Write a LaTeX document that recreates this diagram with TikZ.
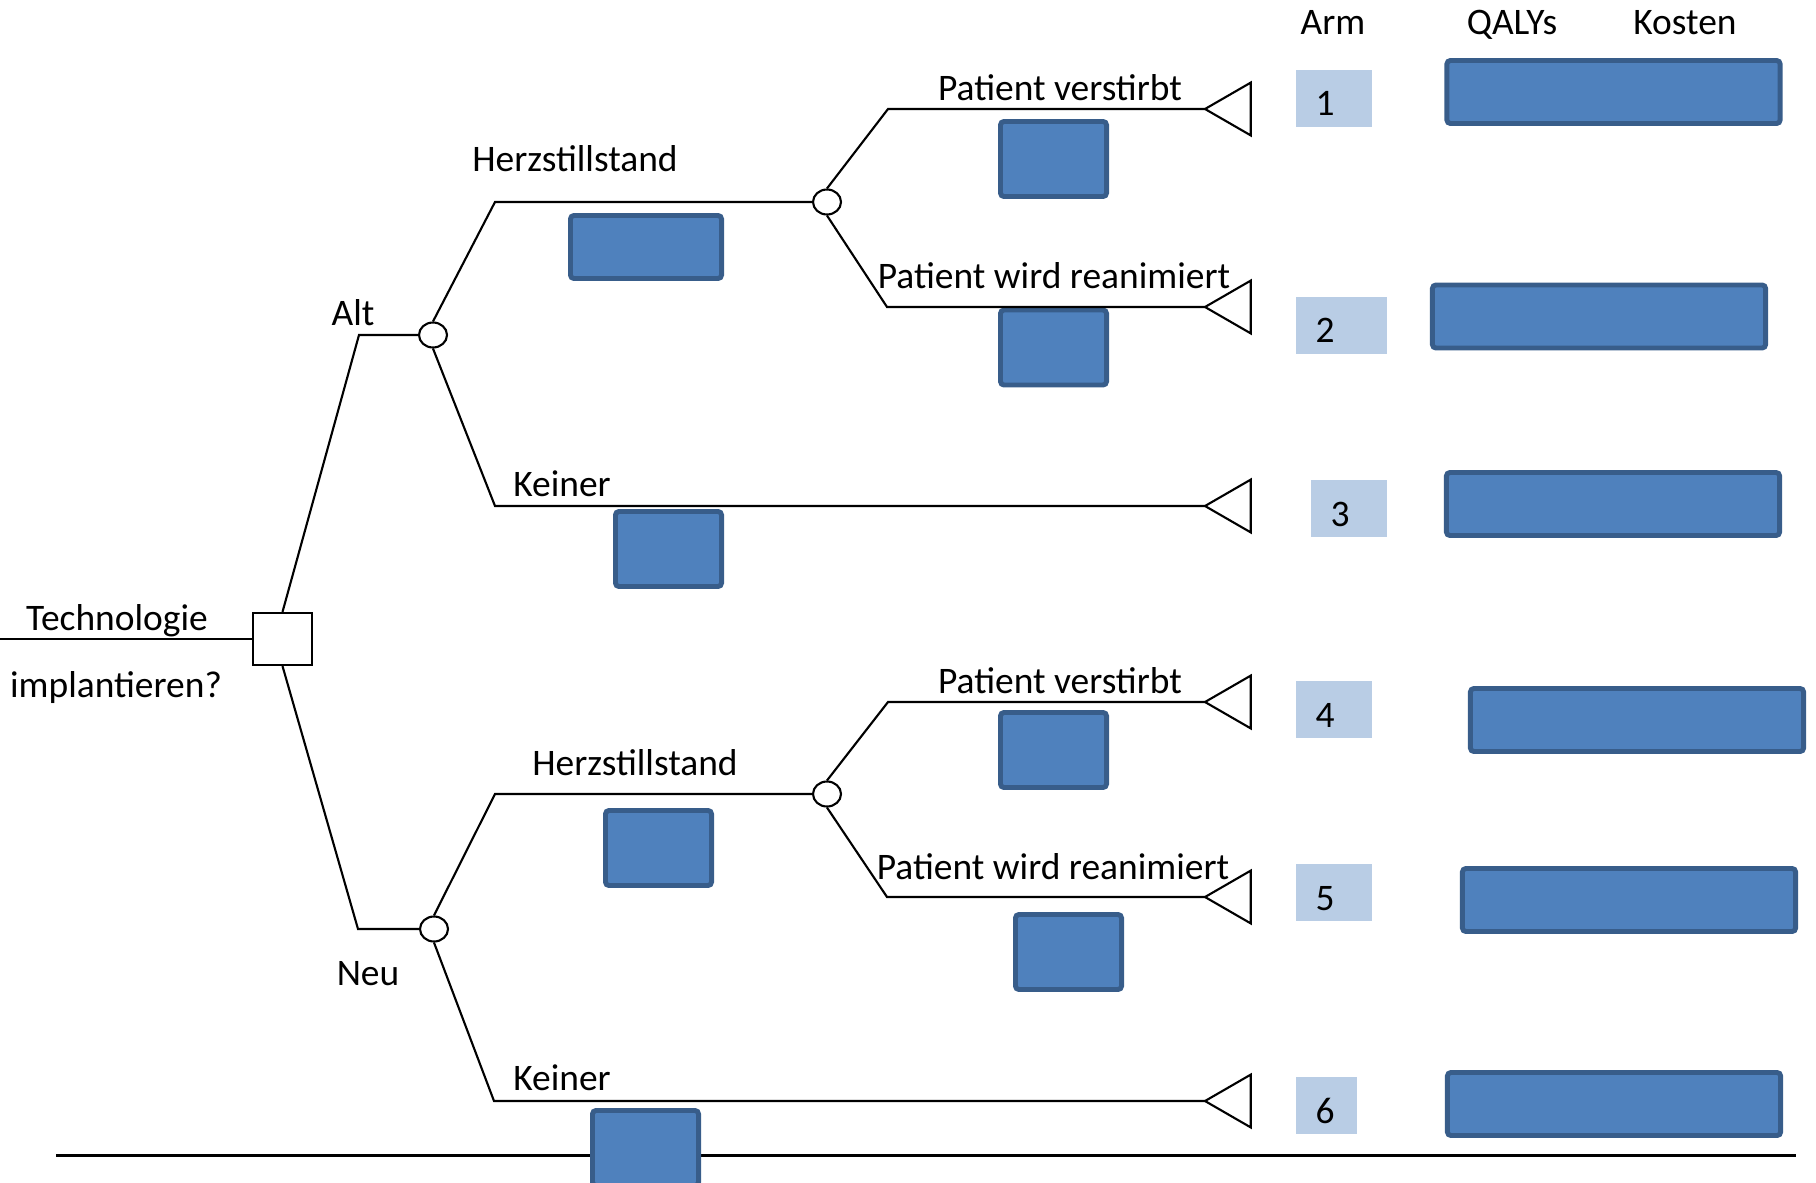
\documentclass[tikz,border=0pt]{standalone}
\usepackage{fontspec}
\setmainfont{Carlito}
\usepackage{xcolor}
\usepackage{tikz}
\usetikzlibrary{
    shapes.geometric
}

\definecolor{boxblue}{HTML}{4F81BD}
\definecolor{boxedge}{HTML}{385D8A}
\definecolor{armblue}{HTML}{B9CDE5}

\begin{document}
\begin{tikzpicture}[
    x=0.01cm,
    y=-0.01cm,
    label_style/.style={
        font=\fontsize{10.65}{12}\selectfont,
        inner sep=0pt,
        anchor=base
    },
    edge_style/.style={
        draw=black,
        line width=0.6pt
    },
    decision_style/.style={
        draw, fill=white, line width=0.6pt,
        minimum width=0.59cm, minimum height=0.52cm,
        inner sep=0pt
    },
    chance_style/.style={
        ellipse, draw, fill=white, line width=0.6pt,
        minimum width=0.28cm, minimum height=0.25cm,
        inner sep=0pt
    },
    end_style/.style={
        regular polygon, regular polygon sides=3,
        shape border rotate=90,
        draw, line width=0.6pt,
        minimum size=0.61cm, inner sep=0pt, outer sep=0pt,
        anchor=corner 1
    },
    prob_style/.style={
        draw=boxedge, fill=boxblue, line width=1.4pt,
        rounded corners=1pt, inner sep=0pt,
        minimum width=1.06cm, minimum height=0.75cm
    },
    cost_style/.style={
        prob_style,
        minimum width=3.33cm, minimum height=0.63cm
    },
    arm_style/.style={
        fill=armblue, inner sep=0pt,
        minimum width=0.76cm, minimum height=0.57cm
    }
]
\useasboundingbox (0,0) rectangle (1816,1182);

% --- Bottom rule (lies behind the last box) ---
\coordinate (base_l) at (56,1155);
\coordinate (base_r) at (1796,1155);
\draw[line width=0.85pt] (base_l) -- (base_r);

% --- Tree nodes ---
\coordinate (start) at (0,639);
\node[decision_style] (dec) at (282.5,639) {};
\node[chance_style] (altc) at (433,335) {};
\node[chance_style] (neuc) at (434,929) {};
\node[chance_style] (c1) at (827,202) {};
\node[chance_style] (c2) at (827,794) {};

% Terminal triangles
\node[end_style] (t1) at (1205,109) {};
\node[end_style] (t2) at (1205,307) {};
\node[end_style] (t3) at (1205,506) {};
\node[end_style] (t4) at (1205,702) {};
\node[end_style] (t5) at (1205,897) {};
\node[end_style] (t6) at (1205,1101) {};

% --- Branch labels ---
\node[label_style] (tech1) at (117,630) {Technologie};
\node[label_style] (tech2) at (116,697) {implantieren?};
\node[label_style] (alt) at (353,325) {Alt};
\node[label_style] (neu) at (368,985) {Neu};
\node[label_style] (herz_a) at (575,172) {Herzstillstand};
\node[label_style] (herz_n) at (635,775) {Herzstillstand};
\node[label_style] (keiner_a) at (562,496) {Keiner};
\node[label_style] (keiner_n) at (562,1090) {Keiner};
\node[label_style] (tod_a) at (1060,101) {Patient verstirbt};
\node[label_style] (rean_a) at (1054,288) {Patient wird reanimiert};
\node[label_style] (tod_n) at (1060,693) {Patient verstirbt};
\node[label_style] (rean_n) at (1053,879) {Patient wird reanimiert};

% Probability boxes
\node[prob_style, minimum width=1.51cm, minimum height=0.63cm] (p1) at (646,247) {};
\node[prob_style] (p2) at (1053.5,159) {};
\node[prob_style] (p3) at (1053.5,347.5) {};
\node[prob_style] (p4) at (668.5,549) {};
\node[prob_style] (p5) at (658.5,848) {};
\node[prob_style] (p6) at (1053.5,750) {};
\node[prob_style] (p7) at (1068.5,952) {};
\node[prob_style] (p8) at (645.5,1148) {};

% --- Table on the right ---
\node[label_style] (arm) at (1333,35) {Arm};
\node[label_style] (qalys) at (1512,35) {QALYs};
\node[label_style] (kosten) at (1685,35) {Kosten};

\node[arm_style] (a1) at (1334,98.5) {};
\node[arm_style, minimum width=0.91cm] (a2) at (1341.5,325.5) {};
\node[arm_style] (a3) at (1349,508.5) {};
\node[arm_style] (a4) at (1334,709.5) {};
\node[arm_style] (a5) at (1334,892.5) {};
\node[arm_style, minimum width=0.61cm] (a6) at (1326.5,1105.5) {};

\node[label_style] (n1) at (1325,116) {1};
\node[label_style] (n2) at (1325,342) {2};
\node[label_style] (n3) at (1340,526) {3};
\node[label_style] (n4) at (1325,727) {4};
\node[label_style] (n5) at (1325,910) {5};
\node[label_style] (n6) at (1325,1123) {6};

\node[cost_style] (k1) at (1613.5,92) {};
\node[cost_style] (k2) at (1599,316.5) {};
\node[cost_style] (k3) at (1613,504) {};
\node[cost_style] (k4) at (1637,720) {};
\node[cost_style] (k5) at (1629,900) {};
\node[cost_style] (k6) at (1614,1104) {};

% --- Edges ---
\draw[edge_style] (start) -- (dec);
\draw[edge_style] (dec.north) -- (359,335) -- (altc);
\draw[edge_style] (dec.south) -- (358,929) -- (neuc);

% Alt arm
\draw[edge_style] (altc.north) -- (495,202) -- (c1);
\draw[edge_style] (altc.south) -- (495,506) -- (t3.corner 1);
\draw[edge_style] (c1.north) -- (888,109) -- (t1.corner 1);
\draw[edge_style] (c1.south) -- (887,307) -- (t2.corner 1);

% Neu arm
\draw[edge_style] (neuc.north) -- (495,794) -- (c2);
\draw[edge_style] (neuc.south) -- (494,1101) -- (t6.corner 1);
\draw[edge_style] (c2.north) -- (888,702) -- (t4.corner 1);
\draw[edge_style] (c2.south) -- (887,897) -- (t5.corner 1);

\end{tikzpicture}
\end{document}
